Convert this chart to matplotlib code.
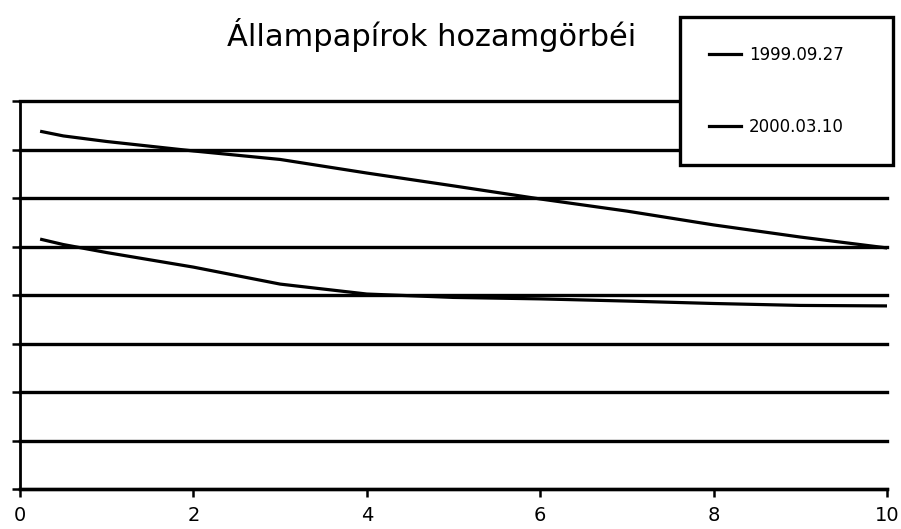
import matplotlib
matplotlib.use("Agg")
import matplotlib.pyplot as plt
import numpy as np

# yield curves (y axis has no labels, scale 0-16 assumed)
maturity = [0.25, 0.5, 1, 2, 3, 4, 5, 6, 7, 8, 9, 10]
y_1999 = [14.74, 14.56, 14.33, 13.94, 13.59, 13.03, 12.50, 11.96, 11.46, 10.89, 10.39, 9.94]
y_2000 = [10.29, 10.08, 9.75, 9.15, 8.45, 8.04, 7.90, 7.84, 7.75, 7.65, 7.57, 7.55]
labels = ["1999.09.27", "2000.03.10"]
title = "Állampapírok hozamgörbéi"
xticks = [0, 2, 4, 6, 8, 10]
yticks = np.arange(0, 17, 2)

fig = plt.figure(figsize=(9.01, 5.29), dpi=100)
ax = fig.add_axes([20 / 901, 40 / 529, 867 / 901, 388 / 529])

lw = 2.3
ax.plot(maturity, y_1999, color="black", lw=lw, label=labels[0], zorder=3)
ax.plot(maturity, y_2000, color="black", lw=lw, label=labels[1], zorder=3)

ax.set_xlim(0, 10)
ax.set_ylim(0, 16)
ax.set_xticks(xticks)
ax.set_yticks(yticks)
ax.set_yticklabels([])
ax.yaxis.grid(True, color="black", lw=2.4)
for g in ax.get_ygridlines():
    g.set_clip_on(False)
ax.set_axisbelow(True)
for s in ("top", "right"):
    ax.spines[s].set_visible(False)
ax.spines["left"].set_linewidth(2.0)
ax.spines["bottom"].set_linewidth(2.4)
ax.tick_params(axis="y", length=6, width=1.8, direction="out")
ax.tick_params(axis="x", length=6, width=1.8, direction="out", labelsize=14, pad=6)

fig.text(432 / 901, 1 - 35 / 529, title, ha="center", va="center", fontsize=22)

leg = ax.legend(loc="upper left", bbox_to_anchor=(680 / 901, 1 - 17 / 529, 213 / 901, 0.0),
                bbox_transform=fig.transFigure, mode="expand", fontsize=12,
                frameon=True, fancybox=False, framealpha=1, edgecolor="black",
                borderpad=1.75, labelspacing=3.2, handlelength=1.9, handletextpad=0.5,
                borderaxespad=0)
leg.get_frame().set_linewidth(2.4)
leg.set_zorder(5)

fig.savefig("out.png", dpi=100)
